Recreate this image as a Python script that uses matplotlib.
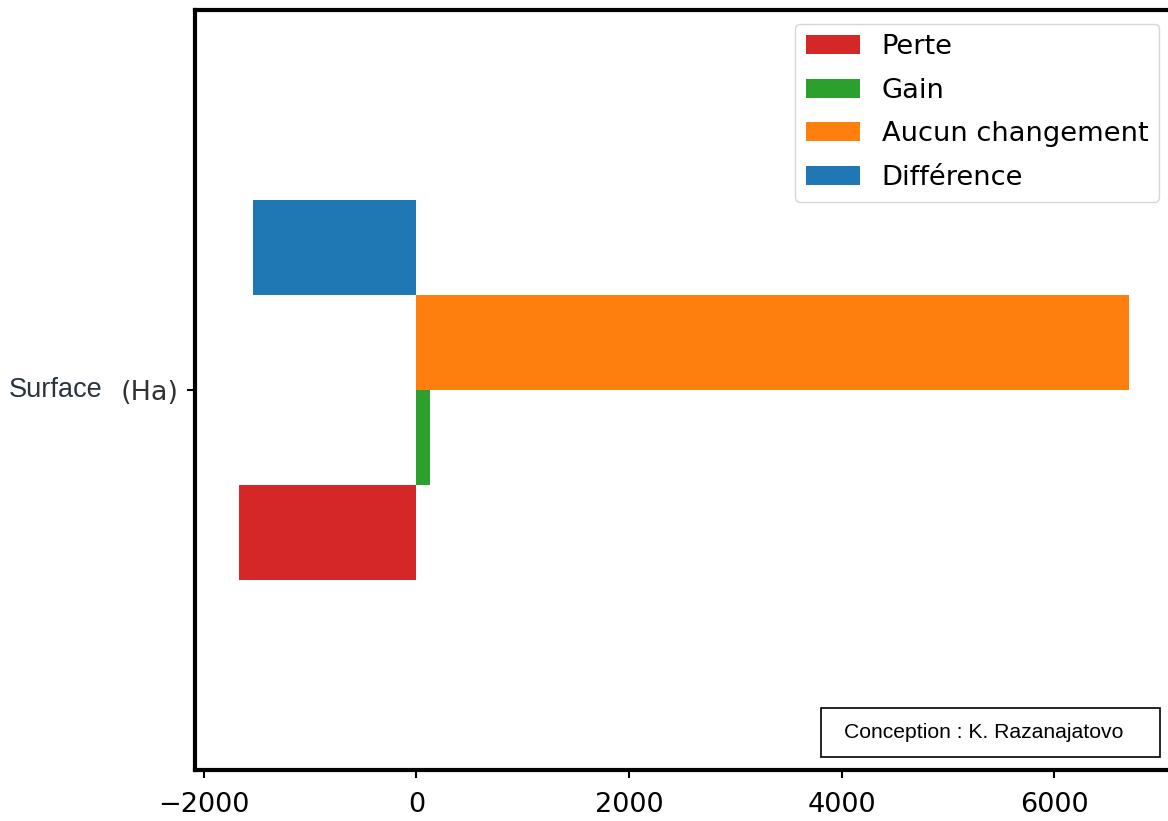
import matplotlib
matplotlib.use("Agg")
import matplotlib.pyplot as plt

categories = ["Surface (Ha)"]
series_names = ["Perte", "Gain", "Aucun changement", "Différence"]
perte = [-1670]
gain = [130]
aucun = [6705]
difference = [-1540]
colors = ["#d62728", "#2ca02c", "#ff7f0e", "#1f77b4"]

fig = plt.figure(figsize=(11.68, 8.21), dpi=100)
W, H = 1168, 821
left_px, right_px, top_px, bottom_px = 195, 1173, 10, 770
ax = fig.add_axes([left_px / W, (H - bottom_px) / H,
                   (right_px - left_px) / W, (bottom_px - top_px) / H])

values = [perte, gain, aucun, difference]
n = len(series_names)
h = 0.5 / n
for i, (name, vals, c) in enumerate(zip(series_names, values, colors)):
    offs = -0.25 + h / 2 + i * h
    ax.barh([j + offs for j in range(len(categories))], vals, height=h,
            color=c, label=name)

ax.set_ylim(-0.5, 0.5)
ax.set_xlim(-2084, 7119)
ax.set_xticks([-2000, 0, 2000, 4000, 6000])
ax.tick_params(axis="x", labelsize=19.5, width=1.5, length=6, pad=10)
ax.tick_params(axis="y", width=1.5, length=6, pad=6)
ax.set_yticks([0])
ax.set_yticklabels(["(Ha)"], fontsize=19.5, color="#333333")
fig.text(103 / W, (H - 390) / H, "Surface", ha="right", va="center",
         fontsize=19.5, family="Liberation Sans", color="#2a3340")
for s in ax.spines.values():
    s.set_linewidth(3)

ax.legend(loc="upper right", fontsize=19.6, labelspacing=0.64)

fig.patches.append(plt.Rectangle((821 / W, (H - 757) / H), (1160 - 821) / W, (757 - 708) / H,
                                 transform=fig.transFigure, fill=True, facecolor="white",
                                 edgecolor="black", linewidth=1.2, zorder=5))
fig.text(984 / W, (H - 732) / H, "Conception : K. Razanajatovo",
         ha="center", va="center", fontsize=15.2, family="Liberation Sans", zorder=6)

fig.savefig("out.png", dpi=100)
